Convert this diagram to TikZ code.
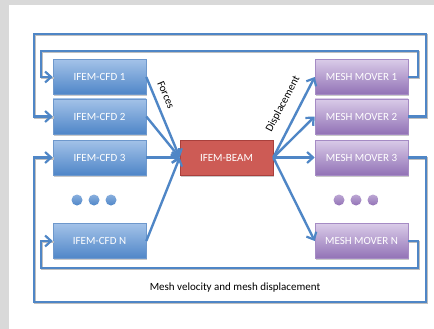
\documentclass[tikz,border=0pt]{standalone}
\usepackage{fontspec}
\setmainfont{Carlito}
\usetikzlibrary{arrows.meta,shadows}
\definecolor{bgray}{HTML}{D9D9D9}
\definecolor{lblue}{HTML}{4F86C6}
\definecolor{cfdtop}{HTML}{A3C2E8}
\definecolor{cfdbot}{HTML}{4F86C8}
\definecolor{cfdedge}{HTML}{6E98CC}
\definecolor{mmtop}{HTML}{D9CBE8}
\definecolor{mmbot}{HTML}{9272B6}
\definecolor{mmedge}{HTML}{A58BC4}
\definecolor{beamfill}{HTML}{CD5B55}
\definecolor{beamedge}{HTML}{A9403C}
\tikzset{
  box/.style={minimum width=93pt,minimum height=35pt,inner sep=0pt,
    font=\fontsize{11}{13}\selectfont,text=white,
    drop shadow={shadow xshift=1pt,shadow yshift=-1.5pt,fill=black!35,opacity=0.6}},
  cfd/.style={box,draw=cfdedge,line width=0.6pt,top color=cfdtop,bottom color=cfdbot},
  mm/.style={box,draw=mmedge,line width=0.6pt,top color=mmtop,bottom color=mmbot},
  beam/.style={box,draw=beamedge,line width=0.6pt,fill=beamfill},
  conn/.style={draw=lblue,line width=2.4pt,line join=miter,
    -{Straight Barb[length=6pt,width=11pt,line width=2.2pt]}},
  loopline/.style={conn,
    preaction={draw=black!25,line width=2.4pt,-,transform canvas={shift={(0.8pt,-1pt)}}}},
  bdot/.style={circle,minimum size=11pt,inner sep=0pt,top color=cfdtop!70!cfdbot,bottom color=cfdbot},
  pdot/.style={circle,minimum size=11pt,inner sep=0pt,top color=mmtop!60!mmbot,bottom color=mmbot},
  lbl/.style={font=\fontsize{11}{13}\selectfont,text=black,inner sep=0pt}
}
\begin{document}
\begin{tikzpicture}[x=1pt,y=1pt]
\useasboundingbox (0,0) rectangle (434,-329);
\fill[bgray] (0,0) rectangle (434,-329);
\fill[white] (9,-5) rectangle (434,-329);

% CFD boxes
\node[cfd] (c1) at (99.5,-77) {IFEM-CFD 1};
\node[cfd] (c2) at (99.5,-116.5) {IFEM-CFD 2};
\node[cfd] (c3) at (99.5,-157.5) {IFEM-CFD 3};
\node[cfd] (cn) at (99.5,-241) {IFEM-CFD N};
% Mesh movers
\node[mm] (m1) at (361.5,-77) {MESH MOVER 1};
\node[mm] (m2) at (361.5,-116.5) {MESH MOVER 2};
\node[mm] (m3) at (361.5,-157.5) {MESH MOVER 3};
\node[mm] (mn) at (361.5,-241) {MESH MOVER N};
% beam
\node[beam] (beam) at (226.5,-157.5) {IFEM-BEAM};

% dots
\node[bdot] (bd1) at (77,-200) {};
\node[bdot] (bd2) at (94,-200) {};
\node[bdot] (bd3) at (111,-200) {};
\node[pdot] (pd1) at (339,-200) {};
\node[pdot] (pd2) at (356,-200) {};
\node[pdot] (pd3) at (373,-200) {};

% loop corner coordinates
\coordinate (oR) at (426,-34);
\coordinate (oL) at (34,-34);
\coordinate (iR) at (418,-51);
\coordinate (iL) at (41,-51);
\coordinate (bR) at (426,-302);
\coordinate (bL) at (34,-302);
\coordinate (dR) at (418,-268);
\coordinate (dL) at (41,-268);

\draw[loopline] (m2.east) -| (oR) -- (oL) |- (c2.west);
\draw[loopline] (m1.east) -| (iR) -- (iL) |- (c1.west);
\draw[loopline] (m3.east) -| (bR) -- (bL) |- (c3.west);
\draw[loopline] (mn.east) -| (dR) -- (dL) |- (cn.west);

% forces
\draw[conn] (c1.east) -- (beam.west);
\draw[conn] (c2.east) -- (beam.west);
\draw[conn] (c3.east) -- (beam.west);
\draw[conn] (cn.east) -- (beam.west);
% displacement
\draw[conn] (beam.east) -- (m1.west);
\draw[conn] (beam.east) -- (m2.west);
\draw[conn] (beam.east) -- (m3.west);
\draw[conn] (beam.east) -- (mn.west);

\node[lbl,rotate=-67] (lforces) at (166,-95) {Forces};
\node[lbl,rotate=62] (ldisp) at (283,-104) {Displacement};
\node[lbl] (lmesh) at (235,-288) {Mesh velocity and mesh displacement};
\end{tikzpicture}
\end{document}
